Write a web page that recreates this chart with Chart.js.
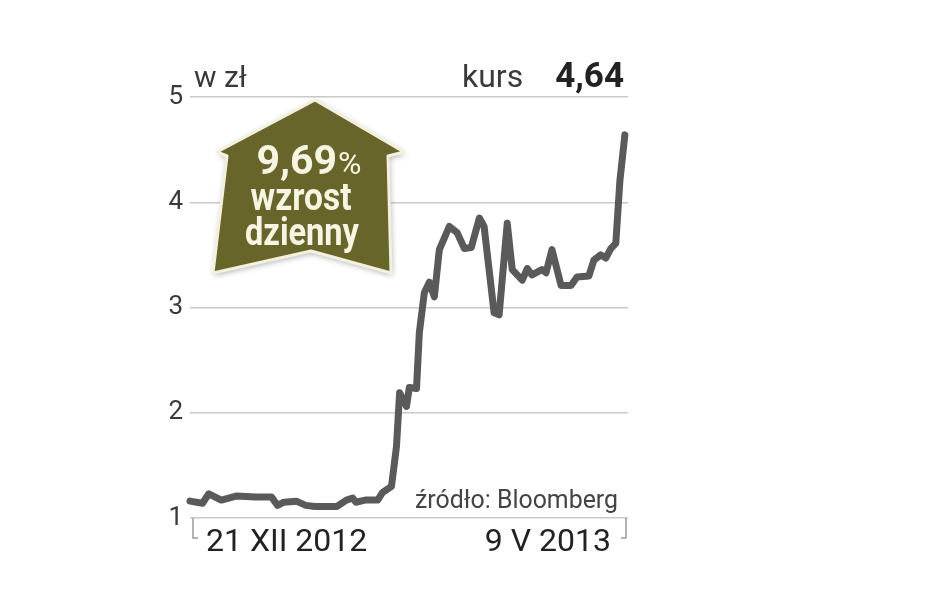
<!DOCTYPE html>
<html>
<head>
<meta charset="utf-8">
<script src="https://cdn.jsdelivr.net/npm/chart.js@4"></script>
<style>
  html, body { margin: 0; padding: 0; background: #fff; }
  canvas { display: block; }
</style>
</head>
<body>
<canvas id="kursChart" width="948" height="593"></canvas>
<script>
// days since 21 XII 2012 and closing price in zł
var days = [0, 4, 6, 10, 15, 21, 26, 28, 30, 34, 37, 40, 47, 50, 52, 53, 56, 60, 61.5, 64.4, 66, 67, 69.2, 70.1, 72.4, 73.3, 74.9, 76.5, 78.1, 79.7, 82.9, 85.4, 87.7, 89.9, 92.5, 94, 97.2, 98.8, 101.4, 103, 106.2, 107.8, 109.3, 112.5, 113.8, 115.7, 118.6, 121.8, 123.7, 127.5, 129.1, 131.3, 132.9, 134.5, 136.1, 137.4, 139];
var prices = [1.16, 1.14, 1.23, 1.17, 1.21, 1.20, 1.20, 1.12, 1.15, 1.16, 1.12, 1.11, 1.11, 1.17, 1.19, 1.15, 1.17, 1.17, 1.24, 1.30, 1.68, 2.19, 2.06, 2.24, 2.23, 2.76, 3.14, 3.24, 3.10, 3.55, 3.77, 3.71, 3.56, 3.57, 3.85, 3.77, 2.95, 2.93, 3.80, 3.36, 3.26, 3.37, 3.31, 3.36, 3.33, 3.55, 3.21, 3.21, 3.29, 3.30, 3.45, 3.50, 3.47, 3.56, 3.61, 4.20, 4.64];
var yTicks = [1, 2, 3, 4, 5];
var dateLabels = ['21 XII 2012', '9 V 2013'];

var points = [];
days.forEach((d, i) => {
    points.push({ x: d, y: prices[i] });
});

var font = 'Roboto, "Noto Sans", sans-serif';

var extras = {
    id: 'extras',
    afterDraw(chart) {
        var ctx = chart.ctx;
        var area = chart.chartArea;
        var yBottom = chart.scales.y.getPixelForValue(1);
        var yTop = chart.scales.y.getPixelForValue(5);
        ctx.save();

        // header texts
        ctx.fillStyle = '#3a3a3a';
        ctx.textBaseline = 'alphabetic';
        ctx.textAlign = 'left';
        ctx.font = '400 30px ' + font;
        ctx.fillText('w zł', 194, yTop - 10);
        ctx.font = '400 32px ' + font;
        ctx.fillText('kurs', 462, yTop - 10, 66);
        ctx.fillStyle = '#222';
        ctx.textAlign = 'right';
        ctx.font = '700 35px ' + font;
        ctx.fillText('4,64', 624, yTop - 10);

        // arrow badge
        ctx.beginPath();
        ctx.moveTo(315, 100);
        ctx.lineTo(404, 152);
        ctx.lineTo(388, 156);
        ctx.lineTo(391, 273);
        ctx.lineTo(311, 251);
        ctx.lineTo(213, 273);
        ctx.lineTo(227, 156);
        ctx.lineTo(217, 152);
        ctx.closePath();
        ctx.shadowColor = 'rgba(0,0,0,0.35)';
        ctx.shadowBlur = 6;
        ctx.shadowOffsetX = 1;
        ctx.shadowOffsetY = 2;
        ctx.fillStyle = '#676529';
        ctx.fill();
        ctx.shadowColor = 'transparent';
        ctx.lineWidth = 3;
        ctx.strokeStyle = '#f3f1de';
        ctx.lineJoin = 'round';
        ctx.stroke();

        ctx.fillStyle = '#f6f4e2';
        ctx.textAlign = 'left';
        ctx.font = '700 41px ' + font;
        var pct = '9,69';
        var w1 = Math.min(ctx.measureText(pct).width, 90);
        ctx.font = '400 32px ' + font;
        var w2 = ctx.measureText('%').width;
        var sx = 309 - (w1 + w2 + 1) / 2;
        ctx.font = '700 41px ' + font;
        ctx.fillText(pct, sx, 174, 90);
        ctx.font = '400 32px ' + font;
        ctx.fillText('%', sx + w1 + 1, 174, 27);
        ctx.textAlign = 'center';
        ctx.font = '700 39px ' + font;
        ctx.fillText('wzrost', 301, 210, 101);
        ctx.fillText('dzienny', 302, 245, 114);

        // source
        ctx.fillStyle = '#444';
        ctx.textAlign = 'left';
        ctx.font = '400 26px ' + font;
        ctx.fillText('źródło: Bloomberg', 415, 508, 203);

        // bracket below the x range
        ctx.strokeStyle = '#9a9a9a';
        ctx.lineWidth = 1.5;
        ctx.beginPath();
        ctx.moveTo(area.left + 3, yBottom);
        ctx.lineTo(area.left + 3, yBottom + 20);
        ctx.lineTo(area.left + 8, yBottom + 20);
        ctx.moveTo(area.right - 2, yBottom);
        ctx.lineTo(area.right - 2, yBottom + 20);
        ctx.lineTo(area.right - 7, yBottom + 20);
        ctx.stroke();

        ctx.fillStyle = '#222';
        ctx.font = '400 32px ' + font;
        ctx.textAlign = 'left';
        ctx.fillText(dateLabels[0], 206, 551, 168);
        ctx.textAlign = 'right';
        ctx.fillText(dateLabels[1], 611, 551, 132);
        ctx.restore();
    }
};

var canvas = document.getElementById('kursChart');
var chart = new Chart(canvas.getContext('2d'), {
    type: 'line',
    data: {
        datasets: [{
            data: points,
            borderColor: '#5a5a5a',
            borderWidth: 7,
            pointRadius: 0,
            tension: 0,
            borderJoinStyle: 'round',
            borderCapStyle: 'round',
            clip: 10
        }]
    },
    options: {
        responsive: false,
        animation: false,
        layout: { padding: { left: 150, right: 320, top: 97, bottom: 75 } },
        plugins: { legend: { display: false }, tooltip: { enabled: false } },
        scales: {
            x: { type: 'linear', min: 0, max: 140, display: false },
            y: {
                min: 1,
                max: 5,
                afterBuildTicks: (axis) => { axis.ticks = yTicks.map((v) => ({ value: v })); },
                afterFit: (axis) => { axis.width = 40; },
                ticks: { color: '#3a3a3a', font: { family: font, size: 26 }, padding: 7 },
                grid: { color: '#c9c9c9', lineWidth: 1.5, drawTicks: false },
                border: { display: false }
            }
        }
    },
    plugins: [extras]
});
</script>
</body>
</html>
